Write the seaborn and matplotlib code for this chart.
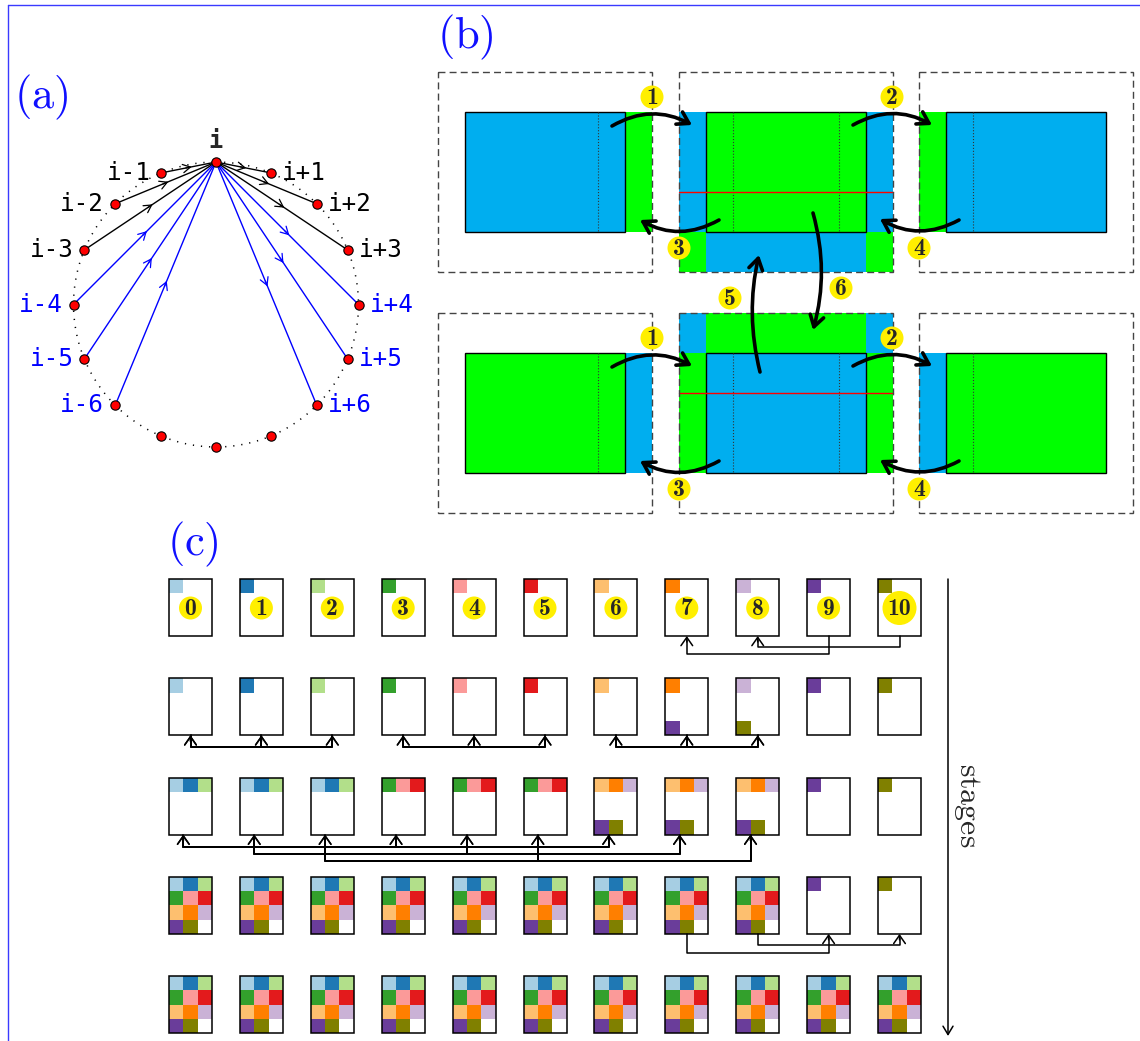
import matplotlib
matplotlib.use("Agg")
import matplotlib.pyplot as plt
from matplotlib.patches import Rectangle, Circle, FancyArrowPatch
import numpy as np
import seaborn as sns

# ---------------- data ----------------
# (a) ring of ranks, rank i talks to i-6 .. i+6
RING_SIZE = 16
NEAR_OFFSETS = [1, 2, 3]     # black links
FAR_OFFSETS = [4, 5, 6]      # blue links

# (b) halo exchange: main colour of left / middle / right block, per row
B_MAIN = [["blue", "green", "blue"],
          ["green", "blue", "green"]]
B_ROW_STEPS = ["1", "2", "3", "4"]
B_MID_STEPS = ["5", "6"]

# (c) contents of each page per stage, 3x4 cells row-major ("." empty, hex block id)
STAGE_0 = ["0...........", "1...........", "2...........", "3...........",
           "4...........", "5...........", "6...........", "7...........",
           "8...........", "9...........", "a..........."]
STAGE_1 = ["0...........", "1...........", "2...........", "3...........",
           "4...........", "5...........", "6...........", "7........9..",
           "8........a..", "9...........", "a..........."]
STAGE_2 = ["012.........", "012.........", "012.........", "345.........",
           "345.........", "345.........", "678......9a.", "678......9a.",
           "678......9a.", "9...........", "a..........."]
STAGE_3 = ["0123456789a.", "0123456789a.", "0123456789a.", "0123456789a.",
           "0123456789a.", "0123456789a.", "0123456789a.", "0123456789a.",
           "0123456789a.", "9...........", "a..........."]
STAGE_4 = ["0123456789a."] * 11
STAGES = [STAGE_0, STAGE_1, STAGE_2, STAGE_3, STAGE_4]
PAGE_LABELS = ["0", "1", "2", "3", "4", "5", "6", "7", "8", "9", "10"]

# communication between stages: (src, dst, level)
C_SEND_01 = [(9, 7, 18), (10, 8, 11)]
C_GROUPS_12 = [[0, 1, 2], [3, 4, 5], [6, 7, 8]]
C_GROUPS_23 = [[0, 3, 6], [1, 4, 7], [2, 5, 8]]
C_LEVELS_23 = [12, 19, 26]
C_SEND_34 = [(7, 9, 19), (8, 10, 11)]

# ---------------- style ----------------
sns.set_theme(style="white")
plt.rcParams["mathtext.fontset"] = "cm"
BLOCK_COLORS = sns.color_palette("Paired", 10) + ["#808000"]
FILL = {"blue": "#00AEEF", "green": "#00FF00"}
YELLOW = "#FFEF00"
LINK_BLUE = "#0000FF"

fig = plt.figure(figsize=(11.4, 10.41), dpi=100)
ax = fig.add_axes([0, 0, 1, 1])
ax.axis("off")

# frame
ax.plot([8, 1140], [5, 5], color="#3a3aff", lw=1.0)
ax.plot([8, 8], [5, 1041], color="#3a3aff", lw=1.0)

def panel_label(x, y, s):
    ax.text(x, y, r"$\mathrm{(%s)}$" % s, color="#1010ff", fontsize=32,
            ha="center", va="center")

def badge(x, y, s, r=11.5, size=17):
    ax.add_patch(Circle((x, y), r, fc=YELLOW, ec="none", zorder=8))
    ax.text(x, y + 1, s, family="cmb10", fontsize=size, ha="center",
            va="center", zorder=9)

def curved(p0, p1, rad):
    ax.add_patch(FancyArrowPatch(p0, p1, connectionstyle="arc3,rad=%g" % rad,
                                 arrowstyle="->,head_length=0.4,head_width=0.25",
                                 mutation_scale=20, lw=2.6, color="black",
                                 shrinkA=0, shrinkB=0, zorder=7))

# ---------------- (a) ----------------
panel_label(41, 97, "a")
cx, cy, R = 216, 304.5, 142.5
t = np.linspace(0, 2 * np.pi, 400)
ax.plot(cx + R * np.sin(t), cy - R * np.cos(t), color="black", lw=1.1,
        ls=(0, (0.8, 4.5)))
theta = np.arange(RING_SIZE) * 2 * np.pi / RING_SIZE
nx = cx + R * np.sin(theta)
ny = cy - R * np.cos(theta)

for k in NEAR_OFFSETS + FAR_OFFSETS:
    col = "black" if k in NEAR_OFFSETS else LINK_BLUE
    for sign in (-1, 1):
        j = (sign * k) % RING_SIZE
        ax.plot([nx[0], nx[j]], [ny[0], ny[j]], color=col, lw=1.0, zorder=2)
        # flow i-k -> i -> i+k
        if sign < 0:
            a, b = np.array([nx[j], ny[j]]), np.array([nx[0], ny[0]])
        else:
            a, b = np.array([nx[0], ny[0]]), np.array([nx[j], ny[j]])
        u = (b - a) / np.linalg.norm(b - a)
        m = (a + b) / 2
        ax.annotate("", xy=m + 3 * u, xytext=m - 3 * u,
                    arrowprops=dict(arrowstyle="->,head_length=0.45,head_width=0.25",
                                    color=col, lw=0.9, shrinkA=0, shrinkB=0))
        lab = "i%s%d" % ("-" if sign < 0 else "+", k)
        ax.text(nx[j] + sign * 11, ny[j], lab, family="DejaVu Sans Mono",
                fontsize=17.5, color=col, ha="left" if sign > 0 else "right",
                va="center")

ax.text(nx[0], ny[0] - 21, "i", family="DejaVu Sans Mono", fontsize=17,
        fontweight="bold", ha="center", va="center")
sns.scatterplot(x=nx, y=ny, ax=ax, color="red", edgecolor="black", s=45,
                linewidth=0.8, zorder=5, legend=False)

# ---------------- (b) ----------------
panel_label(465, 37, "b")
BOX_X = [438, 679, 919]
BOX_W = 214
HALO = 27
MAIN_W, MAIN_H = 160, 120
other = {"blue": "green", "green": "blue"}

for r, mains in enumerate(B_MAIN):
    top = 72 + 241 * r
    y0 = top + 40
    # left block
    lx = 465
    ax.add_patch(Rectangle((lx + MAIN_W, y0), HALO, MAIN_H, fc=FILL[mains[1]], ec="none"))
    ax.add_patch(Rectangle((lx, y0), MAIN_W, MAIN_H, fc=FILL[mains[0]], ec="black", lw=1.0))
    ax.plot([lx + MAIN_W - HALO] * 2, [y0, y0 + MAIN_H], color="#333333", lw=0.8, ls=":")
    # middle block with halo on both sides and towards the other row
    mx = BOX_X[1] + HALO
    ax.add_patch(Rectangle((BOX_X[1], y0), HALO, MAIN_H, fc=FILL[mains[0]], ec="none"))
    ax.add_patch(Rectangle((mx + MAIN_W, y0), HALO, MAIN_H, fc=FILL[mains[2]], ec="none"))
    hy = y0 + MAIN_H if r == 0 else y0 - 40
    ax.add_patch(Rectangle((BOX_X[1], hy), HALO, 40, fc=FILL[other[mains[0]]], ec="none"))
    ax.add_patch(Rectangle((mx, hy), MAIN_W, 40, fc=FILL[other[mains[1]]], ec="none"))
    ax.add_patch(Rectangle((mx + MAIN_W, hy), HALO, 40, fc=FILL[other[mains[2]]], ec="none"))
    ax.add_patch(Rectangle((mx, y0), MAIN_W, MAIN_H, fc=FILL[mains[1]], ec="black", lw=1.0))
    for xd in (mx + HALO, mx + MAIN_W - HALO):
        ax.plot([xd, xd], [y0, y0 + MAIN_H], color="#333333", lw=0.8, ls=":")
    region_top = min(y0, hy)
    ax.plot([BOX_X[1], BOX_X[1] + BOX_W], [region_top + 80] * 2, color="red",
            lw=1.0, zorder=3)
    # right block
    rx = BOX_X[2] + HALO
    ax.add_patch(Rectangle((BOX_X[2], y0), HALO, MAIN_H, fc=FILL[mains[1]], ec="none"))
    ax.add_patch(Rectangle((rx, y0), MAIN_W, MAIN_H, fc=FILL[mains[2]], ec="black", lw=1.0))
    ax.plot([rx + HALO] * 2, [y0, y0 + MAIN_H], color="#333333", lw=0.8, ls=":")
    for bx in BOX_X:
        ax.add_patch(Rectangle((bx, top), BOX_W, 200, fill=False, ec="#444444",
                               lw=1.0, ls=(0, (5, 3)), zorder=6))
    # exchange arrows
    arrows = [((612, y0 + 14), (692, y0 + 13)), ((853, y0 + 13), (932, y0 + 13)),
              ((719, y0 + 108), (640, y0 + 108)), ((959, y0 + 108), (880, y0 + 107))]
    spots = [(652, y0 - 15), (892, y0 - 15), (679, y0 + 136), (919, y0 + 136)]
    for (p0, p1), (bx_, by_), s in zip(arrows, spots, B_ROW_STEPS):
        curved(p0, p1, -0.28)
        badge(bx_, by_, s)

curved((760, 372), (759, 255), -0.12)
curved((813, 213), (813, 330), -0.14)
badge(730, 298, B_MID_STEPS[0])
badge(841, 288, B_MID_STEPS[1])

# ---------------- (c) ----------------
panel_label(193, 544, "c")
PX0, PDX, PW, PH = 169, 70.9, 43, 57
RY0, RDY = 579, 99.3
cw, chh = PW / 3, PH / 4

def page_x(p):
    return PX0 + p * PDX

for s, stage in enumerate(STAGES):
    y = RY0 + s * RDY
    for p, cells in enumerate(stage):
        x = page_x(p)
        for k, c in enumerate(cells):
            if c == ".":
                continue
            rr, cc = divmod(k, 3)
            ax.add_patch(Rectangle((x + cc * cw, y + rr * chh), cw, chh,
                                   fc=BLOCK_COLORS[int(c, 16)], ec="none"))
        ax.add_patch(Rectangle((x, y), PW, PH, fill=False, ec="black", lw=1.1, zorder=4))

for p, lab in enumerate(PAGE_LABELS):
    big = len(lab) > 1
    badge(page_x(p) + PW / 2, RY0 + 29, lab, r=17 if big else 11.5, size=17)

def send(xa, xb, ybot, level):
    ax.plot([xa, xa, xb, xb], [ybot, ybot + level, ybot + level, ybot + 4],
            color="black", lw=1.1, zorder=3)
    ax.annotate("", xy=(xb, ybot), xytext=(xb, ybot + 6),
                arrowprops=dict(arrowstyle="->,head_length=0.5,head_width=0.35",
                                color="black", lw=1.1, shrinkA=0, shrinkB=0))

ybot = RY0 + PH
for a, b, lv in C_SEND_01:
    send(page_x(a) + PW / 2, page_x(b) + PW / 2, ybot, lv)
ybot = RY0 + RDY + PH
for g in C_GROUPS_12:
    for a in g:
        for b in g:
            if a != b:
                send(page_x(a) + PW / 2, page_x(b) + PW / 2, ybot, 12)
ybot = RY0 + 2 * RDY + PH
for g, lv in zip(C_GROUPS_23, C_LEVELS_23):
    for a in g:
        for b in g:
            if a != b:
                send(page_x(a) + PW / 3, page_x(b) + PW / 3, ybot, lv)
ybot = RY0 + 3 * RDY + PH
for a, b, lv in C_SEND_34:
    send(page_x(a) + PW / 2, page_x(b) + PW / 2, ybot, lv)

# stages axis
ax.annotate("", xy=(948, 1036), xytext=(948, 579),
            arrowprops=dict(arrowstyle="->,head_length=0.5,head_width=0.3",
                            color="black", lw=1.1, shrinkA=0, shrinkB=0))
ax.text(967, 805, r"$\mathrm{stages}$", fontsize=23, rotation=270,
        ha="center", va="center")

ax.set_xlim(0, 1140)
ax.set_ylim(1041, 0)
fig.savefig("out.png", dpi=100)
